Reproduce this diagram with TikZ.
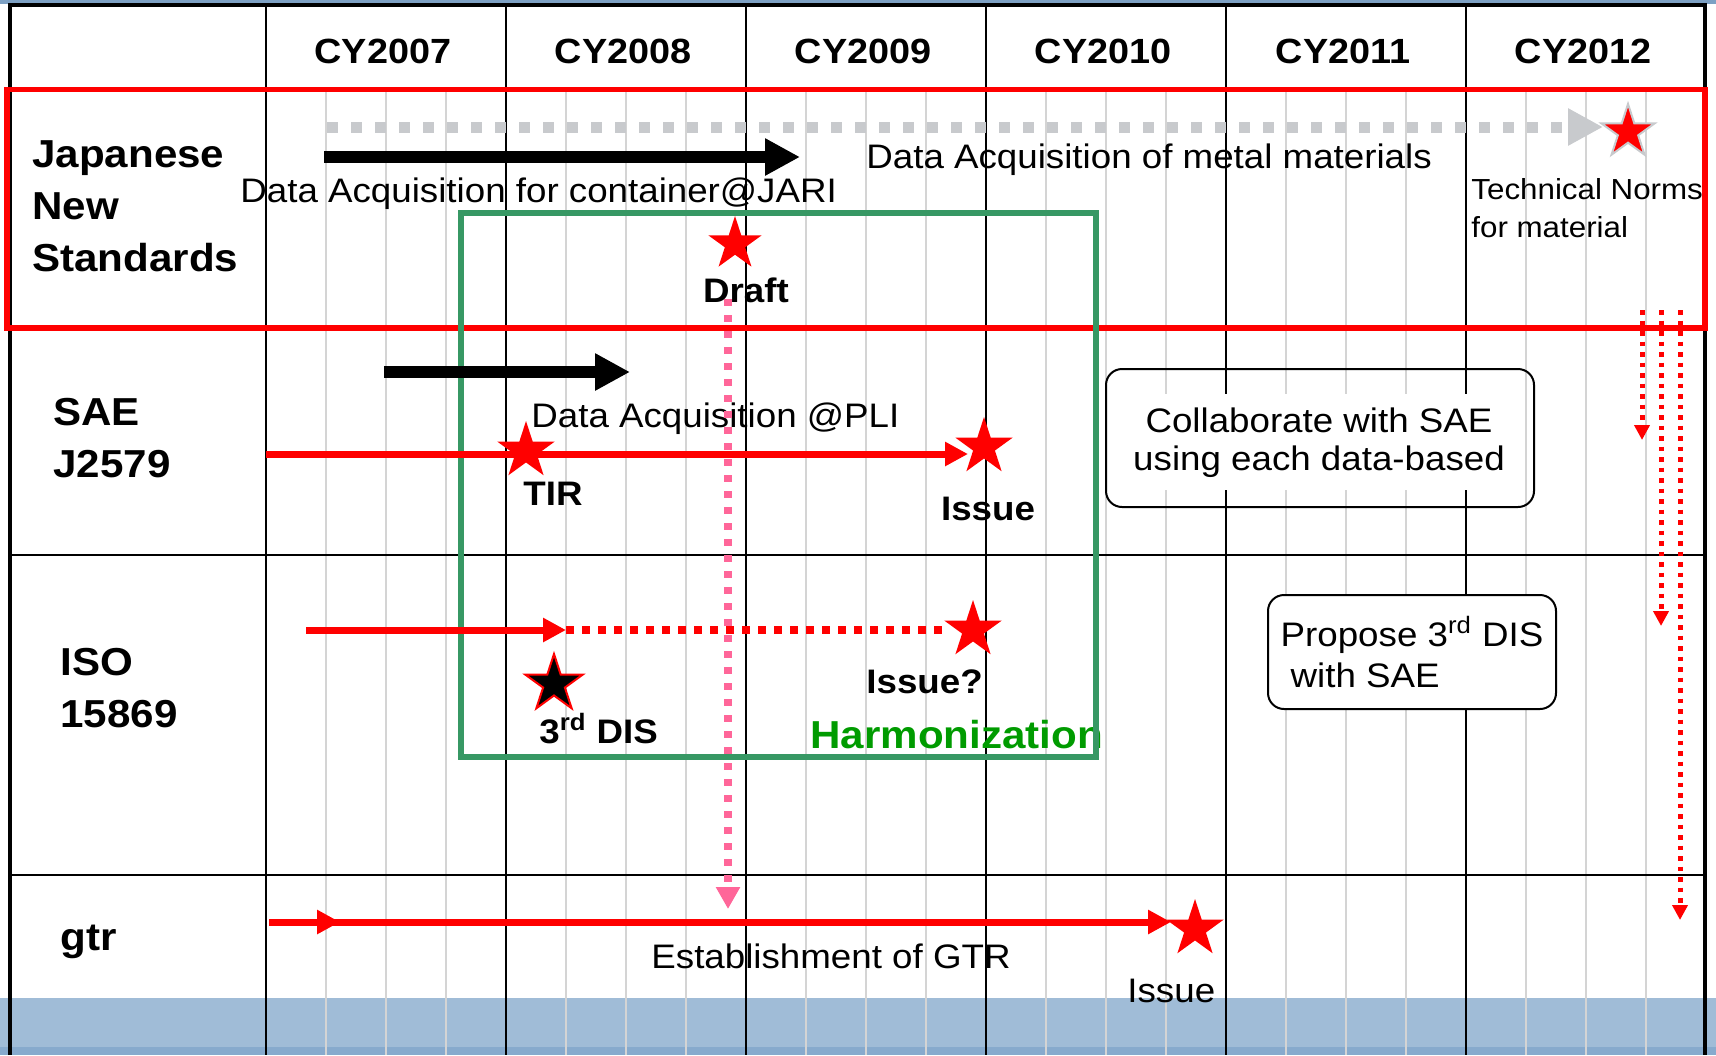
\documentclass[tikz,border=0pt]{standalone}
\usepackage{fontspec}
\setmainfont{Liberation Sans}[FakeStretch=1.08]
\usetikzlibrary{arrows.meta,shapes.geometric}
\definecolor{hdrblue}{RGB}{125,160,195}
\definecolor{bandblue}{RGB}{160,188,215}
\definecolor{banddark}{RGB}{135,170,205}
\definecolor{gridgray}{RGB}{212,212,212}
\definecolor{dashgray}{RGB}{200,202,205}
\definecolor{hred}{RGB}{255,0,0}
\definecolor{hgreen}{RGB}{55,152,100}
\definecolor{txtgreen}{RGB}{0,155,0}
\definecolor{pinkline}{RGB}{255,102,153}

\begin{document}
\begin{tikzpicture}[x=0.5pt,y=-0.5pt,
  yr/.style={font=\bfseries\fontsize{17.5}{21}\selectfont,anchor=base,inner sep=0pt},
  rowlbl/.style={font=\bfseries\fontsize{19.5}{26}\selectfont,anchor=base west,align=left,inner sep=0pt},
  txt/.style={font=\fontsize{17}{19}\selectfont,anchor=base west,inner sep=0pt},
  btxt/.style={font=\bfseries\fontsize{17}{20}\selectfont,anchor=base west,inner sep=0pt},
  rstar/.style={star,star points=5,star point ratio=2.618,fill=hred,inner sep=0pt,minimum size=30pt},
  yline/.style={line width=1pt},
  qline/.style={gridgray,line width=0.75pt},
  blkarr/.style={line width=6pt,-{Triangle[length=17.5pt,width=17.5pt]}},
  grayarr/.style={dashgray,line width=5.5pt,dash pattern=on 5.5pt off 6.5pt,-{Triangle[length=17.5pt,width=17.5pt]}},
  redarr/.style={hred,line width=3.5pt,-{Triangle[length=11.5pt,width=11.5pt]}},
  reddot/.style={hred,line width=4pt,dash pattern=on 4pt off 4pt},
  rdots/.style={hred,line width=2.5pt,dash pattern=on 2.25pt off 3pt,-{Triangle[length=7.5pt,width=7.5pt]}},
  pinkarr/.style={pinkline,line width=4pt,dash pattern=on 3.5pt off 4.5pt,-{Triangle[length=11pt,width=11.5pt]}},
  roundbox/.style={draw,line width=1pt,rounded corners=8pt}]
  \useasboundingbox (0,0) rectangle (1716,1055);
  % bands
  \fill[hdrblue] (0,0) rectangle (1716,4);
  \fill[bandblue] (0,998) rectangle (1716,1055);
  \fill[banddark] (0,1047) rectangle (1716,1055);
  % grid
  \foreach \i in {0,...,5}
    \foreach \q in {60,120,180}
      \draw[qline] ({266+240*\i+\q},92) -- ({266+240*\i+\q},1055);
  \foreach \x in {266,506,...,1466}
    \draw[yline] (\x,5) -- (\x,1055);
  \foreach \y in {89,328,555,875}
    \draw[yline] (9,\y) -- (1705,\y);
  \draw[line width=2pt] (9.5,1055) -- (9.5,5) -- (1705,5) -- (1705,1055);
  % years
  \foreach \yy [count=\i from 0] in {2007,...,2012}
    \node[yr] (cy\yy) at ({383+240*\i},63) {CY\yy};
  % rows (base = last line)
  \node[rowlbl] (jns) at (32,271) {Japanese\\New\\Standards};
  \node[rowlbl] (sae) at (53,477) {SAE\\J2579};
  \node[rowlbl] (iso) at (60,727) {ISO\\15869};
  \node[rowlbl] (gtr) at (60,950) {gtr};
  % texts
  \node[txt] (metallbl) at (866,168) {Data Acquisition of metal materials};
  \node[txt] (jarilbl) at (240,202) {Data Acquisition for container@JARI};
  \node[txt,font=\fontsize{14.5}{19}\selectfont,align=left] (tnlbl) at (1471,237) {Technical Norms\\for material};
  \node[btxt,anchor=base] (draftlbl) at (746,302) {Draft};
  \node[txt] (plilbl) at (531,427) {Data Acquisition @PLI};
  \node[btxt] (tirlbl) at (523,505) {TIR};
  \node[btxt,anchor=base] (saeissuelbl) at (988,520) {Issue};
  \node[btxt] (isoissuelbl) at (866,693) {Issue?};
  \node[btxt] (dislbl) at (539,743) {3\textsuperscript{rd} DIS};
  \node[btxt,font=\bfseries\fontsize{19.5}{22}\selectfont,text=txtgreen] (harmlbl) at (810,748) {Harmonization};
  \node[txt] (gtrlbl) at (651,968) {Establishment of GTR};
  \node[txt] (gtrissuelbl) at (1127,1002) {Issue};
  % boxes
  \draw[hred,line width=2.75pt] (7,89.5) rectangle (1705,328);
  \draw[hgreen,line width=3pt] (461,213) rectangle (1096,757);
  \node[txt,anchor=base,align=center,fill=white,inner xsep=8pt,inner ysep=6.5pt] (collab) at (1319,470) {Collaborate with SAE\\using each data-based};
  \draw[roundbox] (1106,369) rectangle (1534,507);
  \node[roundbox,fill=white,align=left,font=\fontsize{17}{20.5}\selectfont,minimum width=144pt,minimum height=57pt,inner sep=0pt] (propose) at (1412,652) {Propose 3\textsuperscript{rd} DIS\\\hspace{5pt}with SAE};
  % stars
  \node[rstar,draw=dashgray,line width=1pt,minimum size=28pt] (tnstar) at (1628,132) {};
  \node[rstar,minimum size=28pt] (draftstar) at (735,244) {};
  \node[rstar] (tirstar) at (526,451) {};
  \node[rstar] (saeissue) at (984,447) {};
  \node[rstar] (isoissue) at (973,630) {};
  \node[rstar,fill=black,draw=hred,line width=1pt] (disstar) at (554,684) {};
  \node[rstar] (gtrissue) at (1195,929) {};
  % arrows
  \coordinate (metals) at (327,127);
  \coordinate (jaris) at (324,157);
  \coordinate (jarie) at (800,157);
  \coordinate (plis) at (384,372);
  \coordinate (plie) at (630,372);
  \coordinate (saes) at (266,454);
  \coordinate (isos) at (306,630);
  \coordinate (isom) at (566,630);
  \coordinate (gtrs) at (269,922);
  \coordinate (gtrm) at (340,922);
  \coordinate (pinks) at (728,299);
  \coordinate (pinke) at (728,909);
  \draw[grayarr,shorten >=12.5pt] (metals) -- (metals -| tnstar);
  \draw[blkarr] (jaris) -- (jarie);
  \draw[blkarr] (plis) -- (plie);
  \draw[redarr,shorten >=8pt] (saes) -- (saes -| saeissue);
  \draw[redarr] (isos) -- (isom);
  \draw[reddot,shorten >=12pt] (isom) -- (isom -| isoissue);
  \draw[redarr,shorten >=12pt] (gtrs) -- (gtrs -| gtrissue);
  \draw[redarr] (gtrs) -- (gtrm);
  \draw[pinkarr] (pinks) -- (pinke);
  \foreach \x/\ye [count=\i] in {1642/440,1661/626,1680/920}{
    \coordinate (tns\i) at (\x,310);
    \coordinate (tne\i) at (\x,\ye);
    \draw[rdots] (tns\i) -- (tne\i);
  }
\end{tikzpicture}
\end{document}
